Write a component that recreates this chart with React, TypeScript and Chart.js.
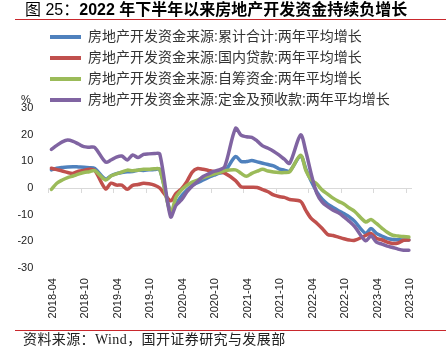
import { useEffect, useRef } from 'react';
import { Chart, registerables } from 'chart.js';

Chart.register(...registerables);

// ---- data ----
const months = [
  '2018-04', '2018-05', '2018-06', '2018-07', '2018-08', '2018-09', '2018-10', '2018-11', '2018-12',
  '2019-01', '2019-02', '2019-03', '2019-04', '2019-05', '2019-06', '2019-07', '2019-08', '2019-09', '2019-10', '2019-11', '2019-12',
  '2020-01', '2020-02', '2020-03', '2020-04', '2020-05', '2020-06', '2020-07', '2020-08', '2020-09', '2020-10', '2020-11', '2020-12',
  '2021-01', '2021-02', '2021-03', '2021-04', '2021-05', '2021-06', '2021-07', '2021-08', '2021-09', '2021-10', '2021-11', '2021-12',
  '2022-01', '2022-02', '2022-03', '2022-04', '2022-05', '2022-06', '2022-07', '2022-08', '2022-09', '2022-10', '2022-11', '2022-12',
  '2023-01', '2023-02', '2023-03', '2023-04', '2023-05', '2023-06', '2023-07', '2023-08', '2023-09', '2023-10',
];

const seriesNames = [
  '房地产开发资金来源:累计合计:两年平均增长',
  '房地产开发资金来源:国内贷款:两年平均增长',
  '房地产开发资金来源:自筹资金:两年平均增长',
  '房地产开发资金来源:定金及预收款:两年平均增长',
];

const totalFunds = [
  6.8, 7.4, 7.7, 7.9, 8.0, 7.9, 7.8, 7.6, 7.3,
  null, 3.3, 4.6, 5.4, 5.8, 6.1, 6.2, 6.7, 6.6, 6.8, 6.9, 7.0,
  null, -8.9, -6.0, -3.0, -0.8, 1.0, 2.0, 3.0, 4.0, 4.8, 5.6, 6.2,
  null, 11.8, 10.0, 9.9, 10.3, 9.8, 9.3, 8.8, 8.3, 7.2, 6.7, 6.4,
  null, 12.0, 7.0, 2.4, -1.5, -4.2, -6.0, -7.3, -8.5, -9.6, -10.8, -12.5,
  null, -17.0, -15.2, -17.0, -18.0, -18.9, -19.3, -19.4, -19.5, -19.5,
];

const domesticLoans = [
  7.4, 6.9, 6.4, 5.8, 5.5, 6.3, 6.6, 7.0, 6.6,
  null, -0.3, 1.8, 1.1, 1.1, -0.5, 1.0, 1.3, 1.8, 1.6, 1.1, 0.0,
  null, -4.8, -2.0, -0.3, 2.4, 6.0, 7.3, 7.0, 6.6, 6.2, 6.0, 5.6,
  null, 2.8, 0.5, 0.3, 0.3, 0.2, -0.6, -1.4, -2.6, -3.2, -3.5, -4.3,
  null, -5.0, -8.5, -11.5, -13.2, -15.2, -17.4, -17.8, -18.4, -19.0, -19.5, -19.6,
  null, -17.8, -17.0, -18.8, -19.4, -20.3, -20.8, -20.6, -19.6, -19.5,
];

const selfRaised = [
  -0.5, 1.8, 3.0, 3.9, 4.5, 5.2, 5.8, 6.1, 6.5,
  null, 3.0, 4.5, 5.3, 6.0, 6.7, 6.5, 6.7, 7.0, 7.0, 7.2, 7.0,
  null, -9.3, -3.5, -0.8, 1.0, 2.2, 3.0, 3.9, 4.6, 5.2, 5.8, 6.5,
  null, 6.8, 5.5, 4.4, 5.5, 6.3, 7.0, 6.4, 6.0, 5.8, 5.8, 6.1,
  null, 12.3, 6.5, 3.0, 1.5, -0.8, -2.3, -3.8, -5.0, -6.0, -7.5, -8.8,
  null, -12.7, -11.8, -13.3, -15.0, -16.6, -17.7, -18.0, -18.2, -18.4,
];

const depositsAdvance = [
  14.5, 16.0, 17.3, 18.0, 17.5, 16.5, 15.5, 15.3, 15.2,
  null, 9.7, 10.5, 11.6, 12.0, 10.5, 12.4, 11.4, 12.6, 12.8, 12.9, 12.8,
  null, -10.8, -6.5, -4.5, -1.5, 0.8, 2.5, 4.3, 5.3, 6.2, 6.8, 8.0,
  null, 22.4, 19.8, 19.2, 19.0, 17.6, 15.8, 14.9, 13.8, 12.4, 10.8, 9.3,
  null, 19.9, 13.5, 5.0, -2.0, -5.3, -7.0, -8.3, -9.3, -10.8, -12.5, -14.5,
  null, -19.8, -18.0, -20.3, -21.0, -21.8, -22.3, -22.9, -23.3, -23.3,
];

const Y_MIN = -30;
const Y_MAX = 30;
const Y_STEP = 10;
const LABEL_EVERY = 6;
const UNIT = '%';

const titleLead = '图 25：';
const titleMain = '2022 年下半年以来房地产开发资金持续负增长';
const sourceText = '资料来源：Wind，国开证券研究与发展部';

// ---- style ----
const COLORS = ['#4F81BD', '#C0504D', '#9BBB59', '#8064A2'];
const RED_RULE = '#C9282D';
const AXIS_COLOR = '#D9D9D9';
const TICK_COLOR = '#222222';
const SANS = "'Liberation Sans', 'Noto Sans CJK SC', sans-serif";
const LEGEND_LEFT = 43;
const LEGEND_HEIGHT = 85;

const legendPlacement = {
  id: 'legendPlacement',
  beforeLayout(chart: any) {
    const lg = chart.legend;
    if (lg && !lg.__patched) {
      const fit = lg.fit;
      lg.fit = function () {
        fit.call(this);
        this.height = LEGEND_HEIGHT;
      };
      lg.__patched = true;
    }
  },
  afterLayout(chart: any) {
    const lg = chart.legend;
    if (!lg) return;
    const w = lg.right - lg.left;
    lg.left = LEGEND_LEFT;
    lg.right = LEGEND_LEFT + w;
  },
};

const unitLabel = {
  id: 'unitLabel',
  afterDraw(chart: any) {
    const { ctx, chartArea } = chart;
    const ys = chart.scales.y;
    ctx.save();
    ctx.font = `11px ${SANS}`;
    ctx.fillStyle = TICK_COLOR;
    ctx.textAlign = 'right';
    ctx.textBaseline = 'middle';
    ctx.fillText(UNIT, ys.right - ys.options.ticks.padding - 2.5, chartArea.top - 8);
    ctx.restore();
  },
};

export default function App() {
  const ref = useRef<HTMLCanvasElement | null>(null);

  useEffect(() => {
    if (!ref.current) return;
    const values = [totalFunds, domesticLoans, selfRaised, depositsAdvance];
    const chart = new Chart(ref.current, {
      type: 'line',
      data: {
        labels: months,
        datasets: values.map((v, i) => ({
          label: seriesNames[i],
          data: v,
          borderColor: COLORS[i],
          backgroundColor: COLORS[i],
          borderWidth: 3.5,
          pointRadius: 0,
          pointHoverRadius: 0,
          tension: 0.3,
          spanGaps: true,
          fill: false,
          borderCapStyle: 'round',
          borderJoinStyle: 'round',
          order: 4 - i,
          xAxisID: 'x',
          yAxisID: 'y',
        })),
      },
      options: {
        responsive: false,
        animation: false,
        events: [],
        layout: { padding: { top: 23, left: 2, right: 34.4, bottom: 26.6 } },
        plugins: {
          tooltip: { enabled: false },
          title: { display: false },
          legend: {
            display: true,
            position: 'top',
            align: 'start',
            labels: {
              boxWidth: 31,
              boxHeight: 4,
              padding: 7,
              color: '#333333',
              font: { size: 14, family: SANS },
              sort: (a: any, b: any) => a.datasetIndex - b.datasetIndex,
              generateLabels: (c: any) =>
                Chart.defaults.plugins.legend.labels
                  .generateLabels(c)
                  .map((l: any) => ({ ...l, lineWidth: 0 })),
            },
          },
        },
        scales: {
          x: {
            type: 'category',
            position: 'bottom',
            offset: true,
            grid: { display: false, drawTicks: false },
            border: { display: false },
            ticks: {
              autoSkip: false,
              minRotation: 90,
              maxRotation: 90,
              padding: 10,
              labelOffset: 1.5,
              color: TICK_COLOR,
              font: { size: 11, family: SANS },
              callback: (_v: any, i: number) => (i % LABEL_EVERY === 0 ? months[i] : ''),
            },
          },
          x0: {
            type: 'category',
            axis: 'x',
            position: { y: 0 },
            offset: true,
            grid: {
              offset: true,
              drawOnChartArea: false,
              drawTicks: true,
              tickLength: 4,
              lineWidth: 1,
              color: (c: any) => (c.index !== undefined && c.index % LABEL_EVERY === 0 ? AXIS_COLOR : 'rgba(0,0,0,0)'),
            },
            border: { display: true, color: AXIS_COLOR, width: 1 },
            ticks: { display: false, autoSkip: false },
          },
          y: {
            type: 'linear',
            position: 'left',
            min: Y_MIN,
            max: Y_MAX,
            grid: { display: false, drawTicks: false },
            border: { display: false },
            ticks: {
              stepSize: Y_STEP,
              padding: 15.4,
              color: TICK_COLOR,
              font: { size: 11, family: SANS },
            },
          },
        },
      } as any,
      plugins: [legendPlacement, unitLabel],
    });
    return () => chart.destroy();
  }, []);

  return (
    <div style={{ position: 'absolute', left: 0, top: 0, width: 446, height: 355, background: '#fff', overflow: 'hidden' }}>
      <canvas ref={ref} width={446} height={355} style={{ position: 'absolute', left: 0, top: 0 }} />
      <div
        style={{
          position: 'absolute', left: 25, top: 0, height: 20, lineHeight: '20px', fontSize: 16,
          fontFamily: SANS, color: '#000', whiteSpace: 'nowrap',
        }}
      >
        <span>{titleLead}</span>
        <span style={{ fontWeight: 700 }}>{titleMain}</span>
      </div>
      <div style={{ position: 'absolute', left: 15, top: 19, width: 431, height: 1, background: RED_RULE }} />
      <div style={{ position: 'absolute', left: 15, top: 330, width: 431, height: 1, background: RED_RULE }} />
      <div
        style={{
          position: 'absolute', left: 23, top: 332, height: 16, lineHeight: '16px', fontSize: 14,
          letterSpacing: '0.4px',
          fontFamily: "'Liberation Serif', 'Noto Sans CJK SC', serif", color: '#222', whiteSpace: 'nowrap',
        }}
      >
        {sourceText}
      </div>
    </div>
  );
}
